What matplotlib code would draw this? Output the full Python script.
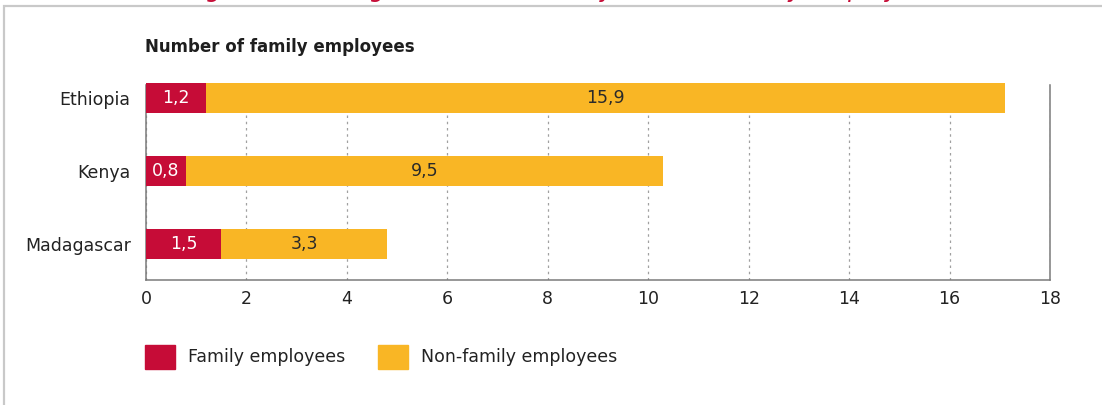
import matplotlib.pyplot as plt
from matplotlib.patches import Rectangle

countries = ["Madagascar", "Kenya", "Ethiopia"]
family = [1.5, 0.8, 1.2]
non_family = [3.3, 9.5, 15.9]
xticks = [0, 2, 4, 6, 8, 10, 12, 14, 16, 18]

red = "#c60c37"
yellow = "#f9b625"

plt.rcParams["font.family"] = ["DejaVu Sans"]

fig = plt.figure(figsize=(11.02, 4.05), dpi=100)
W, H = 1102, 405

def fx(px):
    return px / W

def fy(py):
    return 1 - py / H

# light frame around the panel
fig.patches.append(Rectangle((fx(4), fy(420)), 1.2, fy(6) - fy(420), transform=fig.transFigure,
                             fill=False, edgecolor="#c9c9c9", linewidth=1.6))

# figure caption, mostly above the visible area
fig.text(fx(186), fy(-2.5), "Figure 3: Average number of family and non-family employees",
         color=red, style="italic", fontsize=17.3, va="baseline", ha="left")

fig.text(fx(145), fy(47), "Number of family employees", fontsize=12, fontweight="bold",
         color="#1e1e1e", va="center", ha="left")

ax = fig.add_axes([fx(146), fy(280), fx(1050) - fx(146), fy(83) - fy(280)])

y = range(len(countries))
ax.barh(y, family, height=0.41, color=red, zorder=3)
ax.barh(y, non_family, left=family, height=0.41, color=yellow, zorder=3)

for i in y:
    ax.text(family[i] / 2, i, f"{family[i]:.1f}".replace(".", ","), color="white",
            ha="center", va="center", fontsize=12.5, zorder=4)
    ax.text(family[i] + non_family[i] / 2, i, f"{non_family[i]:.1f}".replace(".", ","),
            color="#2a2a2a", ha="center", va="center", fontsize=12.5, zorder=4)

ax.set_xlim(0, 18)
ax.set_ylim(-0.5, 2.206)
ax.set_xticks(xticks)
ax.set_xticklabels([str(t) for t in xticks])
ax.set_yticks(list(y))
ax.set_yticklabels(countries)
ax.tick_params(length=0, labelsize=12.5, colors="#222222")
ax.tick_params(axis="x", pad=7)
ax.tick_params(axis="y", pad=11)

ax.xaxis.grid(True, linestyle=(0, (2, 3)), color="#a0a0a0", linewidth=0.9, zorder=0)
ax.set_axisbelow(True)

ax.spines["top"].set_visible(False)
for side in ["left", "right", "bottom"]:
    ax.spines[side].set_color("#7a7a7a")
    ax.spines[side].set_linewidth(1.1)
ax.spines["left"].set_bounds(-0.5, 2.18)
ax.spines["right"].set_bounds(-0.5, 2.18)

# legend drawn as squares + labels
items = [(red, "Family employees", 145), (yellow, "Non-family employees", 378)]
for color, label, x0 in items:
    fig.patches.append(Rectangle((fx(x0), fy(369)), fx(30), fy(345) - fy(369),
                                 transform=fig.transFigure, color=color))
    fig.text(fx(x0 + 43), fy(357), label, fontsize=12.5, color="#222222",
             va="center", ha="left")

fig.savefig("out.png", dpi=100)
